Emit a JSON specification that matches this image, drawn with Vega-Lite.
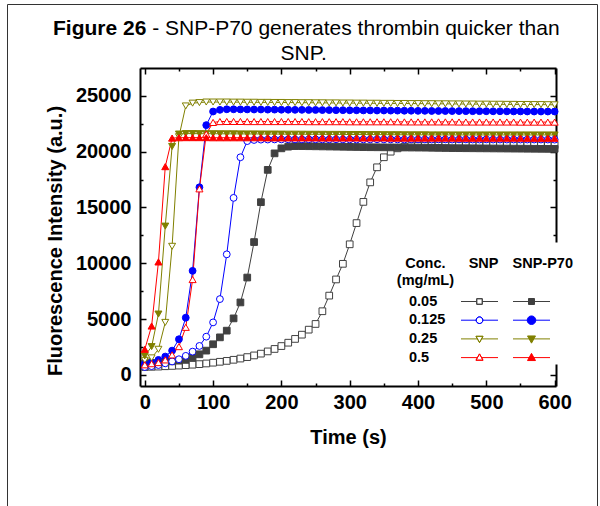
{
  "$schema": "https://vega.github.io/schema/vega-lite/v6.json",
  "width": 416,
  "height": 318,
  "autosize": {"type": "none"},
  "padding": {"left": 140, "top": 68, "right": 44, "bottom": 120},
  "background": "white",
  "config": {"view": {"stroke": null}, "font": "Liberation Sans"},
  "title": {
    "text": "Figure 26",
    "subtitle": ["\u200b\u00a0\u00a0\u00a0\u00a0\u00a0\u00a0\u00a0\u00a0\u00a0\u00a0\u00a0\u00a0\u00a0\u00a0\u00a0\u00a0 - SNP-P70 generates thrombin quicker than", "\u200b\u00a0\u00a0\u00a0\u00a0\u00a0\u00a0\u00a0\u00a0\u00a0\u00a0\u00a0\u00a0\u00a0\u00a0\u00a0\u00a0\u00a0\u00a0\u00a0\u00a0\u00a0\u00a0\u00a0\u00a0\u00a0\u00a0\u00a0\u00a0\u00a0\u00a0\u00a0\u00a0\u00a0\u00a0\u00a0\u00a0\u00a0\u00a0\u00a0SNP."],
    "anchor": "start",
    "frame": "group",
    "dx": -87,
    "offset": -60,
    "font": "Liberation Sans",
    "fontSize": 21,
    "fontWeight": "bold",
    "color": "black",
    "subtitleFont": "Liberation Sans",
    "subtitleFontSize": 21,
    "subtitleFontWeight": "normal",
    "subtitleColor": "black",
    "subtitlePadding": -21,
    "subtitleLineHeight": 25
  },
  "data": {"values": [
    {"t":0,"c":"0.05","SNP":700,"P70":1000},{"t":0,"c":"0.125","SNP":700,"P70":1000},{"t":0,"c":"0.25","SNP":1300,"P70":1700},{"t":0,"c":"0.5","SNP":900,"P70":2290},
    {"t":10,"c":"0.05","SNP":720,"P70":1050},{"t":10,"c":"0.125","SNP":780,"P70":1100},{"t":10,"c":"0.25","SNP":1520,"P70":2530},{"t":10,"c":"0.5","SNP":1000,"P70":4375},
    {"t":20,"c":"0.05","SNP":740,"P70":1100},{"t":20,"c":"0.125","SNP":880,"P70":1340},{"t":20,"c":"0.25","SNP":2290,"P70":5450},{"t":20,"c":"0.5","SNP":1100,"P70":10120},
    {"t":30,"c":"0.05","SNP":770,"P70":1150},{"t":30,"c":"0.125","SNP":1030,"P70":1640},{"t":30,"c":"0.25","SNP":4700,"P70":13330},{"t":30,"c":"0.5","SNP":1340,"P70":18660},
    {"t":40,"c":"0.05","SNP":800,"P70":1210},{"t":40,"c":"0.125","SNP":1200,"P70":2170},{"t":40,"c":"0.25","SNP":11520,"P70":20470},{"t":40,"c":"0.5","SNP":1790,"P70":21220},
    {"t":50,"c":"0.05","SNP":830,"P70":1270},{"t":50,"c":"0.125","SNP":1400,"P70":3190},{"t":50,"c":"0.25","SNP":21340,"P70":21580},{"t":50,"c":"0.5","SNP":2530,"P70":21250},
    {"t":60,"c":"0.05","SNP":870,"P70":1340},{"t":60,"c":"0.125","SNP":1700,"P70":5120},{"t":60,"c":"0.25","SNP":24100,"P70":21620},{"t":60,"c":"0.5","SNP":4260,"P70":21260},
    {"t":70,"c":"0.05","SNP":910,"P70":1550},{"t":70,"c":"0.125","SNP":2080,"P70":9320},{"t":70,"c":"0.25","SNP":24350,"P70":21620},{"t":70,"c":"0.5","SNP":8540,"P70":21260},
    {"t":80,"c":"0.05","SNP":960,"P70":1840},{"t":80,"c":"0.125","SNP":2590,"P70":16810},{"t":80,"c":"0.25","SNP":24400,"P70":21615},{"t":80,"c":"0.5","SNP":16670,"P70":21260},
    {"t":90,"c":"0.05","SNP":1020,"P70":2170},{"t":90,"c":"0.125","SNP":3420,"P70":22380},{"t":90,"c":"0.25","SNP":24450,"P70":21610},{"t":90,"c":"0.5","SNP":21580,"P70":21260},
    {"t":100,"c":"0.05","SNP":1090,"P70":2740},{"t":100,"c":"0.125","SNP":4700,"P70":23600},{"t":100,"c":"0.25","SNP":24450,"P70":21610},{"t":100,"c":"0.5","SNP":22620,"P70":21250},
    {"t":110,"c":"0.05","SNP":1170,"P70":3360},{"t":110,"c":"0.125","SNP":6790,"P70":23750},{"t":110,"c":"0.25","SNP":24450,"P70":21605},{"t":110,"c":"0.5","SNP":22700,"P70":21250},
    {"t":120,"c":"0.05","SNP":1250,"P70":3960},{"t":120,"c":"0.125","SNP":10800,"P70":23800},{"t":120,"c":"0.25","SNP":24450,"P70":21600},{"t":120,"c":"0.5","SNP":22710,"P70":21250},
    {"t":130,"c":"0.05","SNP":1350,"P70":5060},{"t":130,"c":"0.125","SNP":15860,"P70":23800},{"t":130,"c":"0.25","SNP":24440,"P70":21600},{"t":130,"c":"0.5","SNP":22710,"P70":21250},
    {"t":140,"c":"0.05","SNP":1460,"P70":6490},{"t":140,"c":"0.125","SNP":19500,"P70":23790},{"t":140,"c":"0.25","SNP":24440,"P70":21595},{"t":140,"c":"0.5","SNP":22710,"P70":21250},
    {"t":150,"c":"0.05","SNP":1590,"P70":8720},{"t":150,"c":"0.125","SNP":20950,"P70":23790},{"t":150,"c":"0.25","SNP":24430,"P70":21590},{"t":150,"c":"0.5","SNP":22700,"P70":21250},
    {"t":160,"c":"0.05","SNP":1740,"P70":11900},{"t":160,"c":"0.125","SNP":21050,"P70":23780},{"t":160,"c":"0.25","SNP":24430,"P70":21590},{"t":160,"c":"0.5","SNP":22700,"P70":21250},
    {"t":170,"c":"0.05","SNP":1900,"P70":15475},{"t":170,"c":"0.125","SNP":21080,"P70":23780},{"t":170,"c":"0.25","SNP":24420,"P70":21585},{"t":170,"c":"0.5","SNP":22700,"P70":21250},
    {"t":180,"c":"0.05","SNP":2100,"P70":18370},{"t":180,"c":"0.125","SNP":21090,"P70":23770},{"t":180,"c":"0.25","SNP":24420,"P70":21580},{"t":180,"c":"0.5","SNP":22700,"P70":21240},
    {"t":190,"c":"0.05","SNP":2320,"P70":19850},{"t":190,"c":"0.125","SNP":21100,"P70":23770},{"t":190,"c":"0.25","SNP":24410,"P70":21580},{"t":190,"c":"0.5","SNP":22700,"P70":21240},
    {"t":200,"c":"0.05","SNP":2580,"P70":20300},{"t":200,"c":"0.125","SNP":21100,"P70":23760},{"t":200,"c":"0.25","SNP":24410,"P70":21575},{"t":200,"c":"0.5","SNP":22700,"P70":21240},
    {"t":210,"c":"0.05","SNP":2880,"P70":20450},{"t":210,"c":"0.125","SNP":21110,"P70":23760},{"t":210,"c":"0.25","SNP":24400,"P70":21570},{"t":210,"c":"0.5","SNP":22700,"P70":21240},
    {"t":220,"c":"0.05","SNP":3220,"P70":20500},{"t":220,"c":"0.125","SNP":21100,"P70":23750},{"t":220,"c":"0.25","SNP":24400,"P70":21570},{"t":220,"c":"0.5","SNP":22700,"P70":21240},
    {"t":230,"c":"0.05","SNP":3600,"P70":20500},{"t":230,"c":"0.125","SNP":21100,"P70":23750},{"t":230,"c":"0.25","SNP":24390,"P70":21565},{"t":230,"c":"0.5","SNP":22700,"P70":21240},
    {"t":240,"c":"0.05","SNP":4050,"P70":20490},{"t":240,"c":"0.125","SNP":21110,"P70":23740},{"t":240,"c":"0.25","SNP":24390,"P70":21560},{"t":240,"c":"0.5","SNP":22690,"P70":21240},
    {"t":250,"c":"0.05","SNP":4560,"P70":20480},{"t":250,"c":"0.125","SNP":21110,"P70":23740},{"t":250,"c":"0.25","SNP":24380,"P70":21560},{"t":250,"c":"0.5","SNP":22690,"P70":21240},
    {"t":260,"c":"0.05","SNP":5700,"P70":20470},{"t":260,"c":"0.125","SNP":21100,"P70":23730},{"t":260,"c":"0.25","SNP":24380,"P70":21555},{"t":260,"c":"0.5","SNP":22690,"P70":21230},
    {"t":270,"c":"0.05","SNP":7100,"P70":20460},{"t":270,"c":"0.125","SNP":21100,"P70":23730},{"t":270,"c":"0.25","SNP":24370,"P70":21550},{"t":270,"c":"0.5","SNP":22690,"P70":21230},
    {"t":280,"c":"0.05","SNP":8550,"P70":20450},{"t":280,"c":"0.125","SNP":21110,"P70":23720},{"t":280,"c":"0.25","SNP":24370,"P70":21550},{"t":280,"c":"0.5","SNP":22690,"P70":21230},
    {"t":290,"c":"0.05","SNP":9950,"P70":20440},{"t":290,"c":"0.125","SNP":21100,"P70":23720},{"t":290,"c":"0.25","SNP":24360,"P70":21545},{"t":290,"c":"0.5","SNP":22690,"P70":21230},
    {"t":300,"c":"0.05","SNP":11700,"P70":20430},{"t":300,"c":"0.125","SNP":21100,"P70":23710},{"t":300,"c":"0.25","SNP":24360,"P70":21540},{"t":300,"c":"0.5","SNP":22680,"P70":21230},
    {"t":310,"c":"0.05","SNP":13600,"P70":20420},{"t":310,"c":"0.125","SNP":21090,"P70":23710},{"t":310,"c":"0.25","SNP":24350,"P70":21540},{"t":310,"c":"0.5","SNP":22680,"P70":21230},
    {"t":320,"c":"0.05","SNP":15500,"P70":20410},{"t":320,"c":"0.125","SNP":21100,"P70":23700},{"t":320,"c":"0.25","SNP":24350,"P70":21535},{"t":320,"c":"0.5","SNP":22680,"P70":21230},
    {"t":330,"c":"0.05","SNP":17250,"P70":20400},{"t":330,"c":"0.125","SNP":21100,"P70":23700},{"t":330,"c":"0.25","SNP":24340,"P70":21530},{"t":330,"c":"0.5","SNP":22680,"P70":21230},
    {"t":340,"c":"0.05","SNP":18600,"P70":20395},{"t":340,"c":"0.125","SNP":21110,"P70":23690},{"t":340,"c":"0.25","SNP":24340,"P70":21530},{"t":340,"c":"0.5","SNP":22680,"P70":21230},
    {"t":350,"c":"0.05","SNP":19500,"P70":20390},{"t":350,"c":"0.125","SNP":21100,"P70":23690},{"t":350,"c":"0.25","SNP":24330,"P70":21525},{"t":350,"c":"0.5","SNP":22680,"P70":21230},
    {"t":360,"c":"0.05","SNP":20000,"P70":20385},{"t":360,"c":"0.125","SNP":21100,"P70":23680},{"t":360,"c":"0.25","SNP":24330,"P70":21520},{"t":360,"c":"0.5","SNP":22680,"P70":21220},
    {"t":370,"c":"0.05","SNP":20300,"P70":20380},{"t":370,"c":"0.125","SNP":21100,"P70":23680},{"t":370,"c":"0.25","SNP":24320,"P70":21520},{"t":370,"c":"0.5","SNP":22680,"P70":21220},
    {"t":380,"c":"0.05","SNP":20450,"P70":20375},{"t":380,"c":"0.125","SNP":21090,"P70":23670},{"t":380,"c":"0.25","SNP":24320,"P70":21515},{"t":380,"c":"0.5","SNP":22670,"P70":21220},
    {"t":390,"c":"0.05","SNP":20500,"P70":20370},{"t":390,"c":"0.125","SNP":21100,"P70":23670},{"t":390,"c":"0.25","SNP":24310,"P70":21510},{"t":390,"c":"0.5","SNP":22670,"P70":21220},
    {"t":400,"c":"0.05","SNP":20520,"P70":20365},{"t":400,"c":"0.125","SNP":21100,"P70":23660},{"t":400,"c":"0.25","SNP":24310,"P70":21510},{"t":400,"c":"0.5","SNP":22670,"P70":21220},
    {"t":410,"c":"0.05","SNP":20530,"P70":20360},{"t":410,"c":"0.125","SNP":21100,"P70":23660},{"t":410,"c":"0.25","SNP":24300,"P70":21510},{"t":410,"c":"0.5","SNP":22670,"P70":21220},
    {"t":420,"c":"0.05","SNP":20540,"P70":20350},{"t":420,"c":"0.125","SNP":21090,"P70":23650},{"t":420,"c":"0.25","SNP":24300,"P70":21505},{"t":420,"c":"0.5","SNP":22670,"P70":21220},
    {"t":430,"c":"0.05","SNP":20550,"P70":20340},{"t":430,"c":"0.125","SNP":21100,"P70":23650},{"t":430,"c":"0.25","SNP":24290,"P70":21505},{"t":430,"c":"0.5","SNP":22670,"P70":21220},
    {"t":440,"c":"0.05","SNP":20550,"P70":20330},{"t":440,"c":"0.125","SNP":21100,"P70":23645},{"t":440,"c":"0.25","SNP":24290,"P70":21505},{"t":440,"c":"0.5","SNP":22670,"P70":21220},
    {"t":450,"c":"0.05","SNP":20560,"P70":20320},{"t":450,"c":"0.125","SNP":21090,"P70":23640},{"t":450,"c":"0.25","SNP":24280,"P70":21500},{"t":450,"c":"0.5","SNP":22670,"P70":21220},
    {"t":460,"c":"0.05","SNP":20560,"P70":20315},{"t":460,"c":"0.125","SNP":21100,"P70":23640},{"t":460,"c":"0.25","SNP":24280,"P70":21500},{"t":460,"c":"0.5","SNP":22660,"P70":21210},
    {"t":470,"c":"0.05","SNP":20560,"P70":20310},{"t":470,"c":"0.125","SNP":21100,"P70":23635},{"t":470,"c":"0.25","SNP":24270,"P70":21500},{"t":470,"c":"0.5","SNP":22660,"P70":21210},
    {"t":480,"c":"0.05","SNP":20570,"P70":20305},{"t":480,"c":"0.125","SNP":21090,"P70":23630},{"t":480,"c":"0.25","SNP":24270,"P70":21500},{"t":480,"c":"0.5","SNP":22660,"P70":21210},
    {"t":490,"c":"0.05","SNP":20570,"P70":20300},{"t":490,"c":"0.125","SNP":21090,"P70":23630},{"t":490,"c":"0.25","SNP":24260,"P70":21500},{"t":490,"c":"0.5","SNP":22660,"P70":21210},
    {"t":500,"c":"0.05","SNP":20570,"P70":20295},{"t":500,"c":"0.125","SNP":21100,"P70":23625},{"t":500,"c":"0.25","SNP":24260,"P70":21500},{"t":500,"c":"0.5","SNP":22660,"P70":21210},
    {"t":510,"c":"0.05","SNP":20580,"P70":20290},{"t":510,"c":"0.125","SNP":21090,"P70":23620},{"t":510,"c":"0.25","SNP":24250,"P70":21500},{"t":510,"c":"0.5","SNP":22660,"P70":21210},
    {"t":520,"c":"0.05","SNP":20580,"P70":20285},{"t":520,"c":"0.125","SNP":21090,"P70":23620},{"t":520,"c":"0.25","SNP":24250,"P70":21500},{"t":520,"c":"0.5","SNP":22660,"P70":21210},
    {"t":530,"c":"0.05","SNP":20580,"P70":20280},{"t":530,"c":"0.125","SNP":21090,"P70":23615},{"t":530,"c":"0.25","SNP":24240,"P70":21500},{"t":530,"c":"0.5","SNP":22660,"P70":21210},
    {"t":540,"c":"0.05","SNP":20580,"P70":20275},{"t":540,"c":"0.125","SNP":21090,"P70":23610},{"t":540,"c":"0.25","SNP":24240,"P70":21500},{"t":540,"c":"0.5","SNP":22660,"P70":21210},
    {"t":550,"c":"0.05","SNP":20580,"P70":20270},{"t":550,"c":"0.125","SNP":21090,"P70":23610},{"t":550,"c":"0.25","SNP":24230,"P70":21500},{"t":550,"c":"0.5","SNP":22650,"P70":21210},
    {"t":560,"c":"0.05","SNP":20580,"P70":20265},{"t":560,"c":"0.125","SNP":21090,"P70":23605},{"t":560,"c":"0.25","SNP":24230,"P70":21500},{"t":560,"c":"0.5","SNP":22650,"P70":21200},
    {"t":570,"c":"0.05","SNP":20580,"P70":20260},{"t":570,"c":"0.125","SNP":21090,"P70":23600},{"t":570,"c":"0.25","SNP":24220,"P70":21500},{"t":570,"c":"0.5","SNP":22650,"P70":21200},
    {"t":580,"c":"0.05","SNP":20580,"P70":20255},{"t":580,"c":"0.125","SNP":21090,"P70":23600},{"t":580,"c":"0.25","SNP":24220,"P70":21500},{"t":580,"c":"0.5","SNP":22650,"P70":21200},
    {"t":590,"c":"0.05","SNP":20580,"P70":20250},{"t":590,"c":"0.125","SNP":21090,"P70":23600},{"t":590,"c":"0.25","SNP":24210,"P70":21500},{"t":590,"c":"0.5","SNP":22650,"P70":21200},
    {"t":600,"c":"0.05","SNP":20580,"P70":20250},{"t":600,"c":"0.125","SNP":21080,"P70":23600},{"t":600,"c":"0.25","SNP":24200,"P70":21500},{"t":600,"c":"0.5","SNP":22650,"P70":21200}
  ]},
  "layer": [
    {
      "transform": [{"fold": ["SNP", "P70"], "as": ["s", "v"]}],
      "mark": {"type": "line", "strokeWidth": 1},
      "encoding": {
        "x": {"field": "t", "type": "quantitative",
          "scale": {"domain": [-7, 602], "nice": false, "zero": false},
          "axis": {"orient": "bottom", "values": [0,50,100,150,200,250,300,350,400,450,500,550,600],
            "labelExpr": "datum.value % 100 === 0 ? datum.label : ''",
            "grid": false, "domainColor": "black", "domainWidth": 2,
            "tickColor": "black", "tickWidth": 1.5,
            "tickSize": {"condition": {"test": "datum.value % 100 === 0", "value": -6}, "value": -3},
            "labelFont": "Liberation Sans", "labelFontSize": 20, "labelFontWeight": "bold", "labelColor": "black",
            "labelPadding": 12, "labelFlush": false, "labelOverlap": false,
            "title": "Time (s)", "titleFont": "Liberation Sans", "titleFontSize": 20, "titleFontWeight": "bold", "titleColor": "black",
            "titleBaseline": "alphabetic", "titleY": 57}},
        "y": {"field": "v", "type": "quantitative",
          "scale": {"domain": [-1000, 27500], "nice": false, "zero": false},
          "axis": {"orient": "left", "values": [0,2500,5000,7500,10000,12500,15000,17500,20000,22500,25000],
            "format": "d",
            "labelExpr": "datum.value % 5000 === 0 ? datum.label : ''",
            "grid": false, "domainColor": "black", "domainWidth": 2,
            "tickColor": "black", "tickWidth": 1.5,
            "tickSize": {"condition": {"test": "datum.value % 5000 === 0", "value": -6}, "value": -3},
            "labelFont": "Liberation Sans", "labelFontSize": 20, "labelFontWeight": "bold", "labelColor": "black",
            "labelPadding": 15, "labelFlush": false, "labelOverlap": false,
            "title": "Fluorescence Intensity (a.u.)", "titleFont": "Liberation Sans", "titleFontSize": 20, "titleFontWeight": "bold", "titleColor": "black",
            "titleAngle": -90, "titleAlign": "center", "titleBaseline": "alphabetic", "titleX": -79, "titleY": 172.5}},
        "color": {"field": "c", "type": "nominal",
          "scale": {"domain": ["0.05", "0.125", "0.25", "0.5"], "range": ["#404040", "#0000ff", "#808000", "#ff0000"]},
          "legend": null},
        "detail": {"field": "s"}
      }
    },
    {
      "transform": [{"fold": ["SNP", "P70"], "as": ["s", "v"]}],
      "mark": {"type": "point", "filled": true, "opacity": 1, "strokeWidth": 1},
      "encoding": {
        "x": {"field": "t", "type": "quantitative",
          "axis": {"orient": "top", "values": [0,50,100,150,200,250,300,350,400,450,500,550,600],
            "labels": false, "title": null, "grid": false, "domainColor": "black", "domainWidth": 2,
            "tickColor": "black", "tickWidth": 1.5,
            "tickSize": {"condition": {"test": "datum.value % 100 === 0", "value": -6}, "value": -3}}},
        "y": {"field": "v", "type": "quantitative",
          "axis": {"orient": "right", "values": [0,2500,5000,7500,10000,12500,15000,17500,20000,22500,25000],
            "labels": false, "title": null, "grid": false, "domainColor": "black", "domainWidth": 2,
            "tickColor": "black", "tickWidth": 1.5,
            "tickSize": {"condition": {"test": "datum.value % 5000 === 0", "value": -6}, "value": -3}}},
        "fill": {"field": "c", "type": "nominal",
          "condition": {"test": "datum.s === 'SNP'", "value": "white"},
          "scale": {"domain": ["0.05", "0.125", "0.25", "0.5"], "range": ["#404040", "#0000ff", "#808000", "#ff0000"]},
          "legend": null},
        "stroke": {"field": "c", "type": "nominal",
          "scale": {"domain": ["0.05", "0.125", "0.25", "0.5"], "range": ["#404040", "#0000ff", "#808000", "#ff0000"]},
          "legend": null},
        "shape": {"field": "c", "type": "nominal",
          "scale": {"domain": ["0.05", "0.125", "0.25", "0.5"], "range": ["square", "circle", "triangle-down", "triangle-up"]},
          "legend": null},
        "size": {"field": "c", "type": "ordinal",
          "scale": {"domain": ["0.05", "0.125", "0.25", "0.5"], "range": [45, 50, 60, 60]},
          "legend": null},
        "order": [{"field": "c"}, {"field": "s", "sort": "descending"}]
      }
    },
    {
      "data": {"values": [{"k": "box"}]},
      "mark": {"type": "point", "filled": true, "color": "white", "stroke": "black", "strokeWidth": 1, "opacity": 0},
      "encoding": {
        "shape": {"field": "k", "type": "nominal",
          "scale": {"domain": ["box"], "range": ["M-1,-0.613H1V0.613H-1Z"]},
          "legend": {
            "orient": "none", "legendX": 241, "legendY": 135.5, "padding": 0,
            "title": null, "labelExpr": "''", "labelOpacity": 0,
            "symbolSize": 39601, "symbolFillColor": "white", "symbolStrokeColor": "black",
            "symbolStrokeWidth": 1, "symbolOpacity": 1
          }}
      }
    },
    {
      "data": {"values": [{"h": "Conc."}]},
      "mark": {"type": "point", "opacity": 0},
      "encoding": {
        "shape": {"field": "h", "type": "nominal",
          "legend": {
            "orient": "none", "legendX": 256.4, "legendY": 189, "padding": 0,
            "title": ["Conc.", "(mg/mL)"],
            "titleFont": "Liberation Sans", "titleFontSize": 14.5, "titleFontWeight": "bold", "titleColor": "black",
            "titleLineHeight": 16.5, "titleAlign": "center", "titleAnchor": "start", "titleLimit": 1000, "titlePadding": 2,
            "labelExpr": "''", "labelOpacity": 0,
            "symbolSize": 1, "symbolOpacity": 0
          }}
      }
    },
    {
      "data": {"values": [{"c": "0.05"}, {"c": "0.125"}, {"c": "0.25"}, {"c": "0.5"}]},
      "mark": {"type": "point", "opacity": 0},
      "encoding": {
        "shape": {"field": "c", "type": "nominal",
          "scale": {"domain": ["0.05", "0.125", "0.25", "0.5"]},
          "legend": {
            "orient": "none", "legendX": 254.5, "legendY": 225, "padding": 0,
            "title": null,
            "labelFont": "Liberation Sans", "labelFontSize": 14.5, "labelFontWeight": "bold", "labelColor": "black",
            "labelBaseline": "middle", "labelOffset": 0, "labelLimit": 200,
            "symbolSize": 1, "symbolOpacity": 0,
            "clipHeight": 17, "rowPadding": 1.7
          }}
      }
    },
    {
      "data": {"values": [{"c": "0.05"}, {"c": "0.125"}, {"c": "0.25"}, {"c": "0.5"}]},
      "mark": {"type": "point", "filled": false, "opacity": 0},
      "encoding": {
        "shape": {"field": "c", "type": "nominal",
          "scale": {"domain": ["0.05", "0.125", "0.25", "0.5"], "range": [
            "M-1,0H-0.15M0.15,0H1M-0.15,-0.15H0.15V0.15H-0.15ZM-0.15,-0.15V0.15H0.15V-0.15Z",
            "M-1,0H-0.18M0.18,0H1M-0.18,0A0.18,0.18,0,1,0,0.18,0A0.18,0.18,0,1,0,-0.18,0ZM-0.18,0A0.18,0.18,0,1,1,0.18,0A0.18,0.18,0,1,1,-0.18,0Z",
            "M-1,0H-0.112M0.112,0H1M-0.19,-0.14H0.19L0,0.2ZM-0.19,-0.14L0,0.2L0.19,-0.14Z",
            "M-1,0H-0.112M0.112,0H1M-0.19,0.14H0.19L0,-0.2ZM-0.19,0.14L0,-0.2L0.19,0.14Z"
          ]},
          "legend": {
            "orient": "none", "legendX": 320.5, "legendY": 189, "padding": 0,
            "title": "SNP", "titleAnchor": "end",
            "titleFont": "Liberation Sans", "titleFontSize": 14.5, "titleFontWeight": "bold", "titleColor": "black",
            "titlePadding": 21.5, "titleLimit": 1000,
            "labelExpr": "''", "labelOpacity": 0, "labelOffset": 0,
            "symbolSize": 1369, "symbolStrokeWidth": 1, "symbolOpacity": 1,
            "clipHeight": 17, "rowPadding": 1.7
          }},
        "stroke": {"field": "c", "type": "nominal",
          "scale": {"domain": ["0.05", "0.125", "0.25", "0.5"], "range": ["#404040", "#0000ff", "#808000", "#ff0000"]}}
      }
    },
    {
      "data": {"values": [{"c": "0.05"}, {"c": "0.125"}, {"c": "0.25"}, {"c": "0.5"}]},
      "mark": {"type": "point", "filled": true, "opacity": 0},
      "encoding": {
        "shape": {"field": "c", "type": "nominal",
          "scale": {"domain": ["0.05", "0.125", "0.25", "0.5"], "range": [
            "M-1,0H1M-0.162,-0.162H0.162V0.162H-0.162Z",
            "M-1,0H1M-0.232,0A0.232,0.232,0,1,0,0.232,0A0.232,0.232,0,1,0,-0.232,0Z",
            "M-1,0H1M-0.216,-0.16H0.216L0,0.23Z",
            "M-1,0H1M-0.216,0.16H0.216L0,-0.23Z"
          ]},
          "legend": {
            "orient": "none", "legendX": 372.5, "legendY": 189, "padding": 0,
            "title": "SNP-P70", "titleAnchor": "start",
            "titleFont": "Liberation Sans", "titleFontSize": 14.5, "titleFontWeight": "bold", "titleColor": "black",
            "titlePadding": 21.5, "titleLimit": 1000,
            "labelExpr": "''", "labelOpacity": 0, "labelOffset": 0,
            "symbolSize": 1369, "symbolStrokeWidth": 1, "symbolOpacity": 1,
            "clipHeight": 17, "rowPadding": 1.7
          }},
        "fill": {"field": "c", "type": "nominal",
          "scale": {"domain": ["0.05", "0.125", "0.25", "0.5"], "range": ["#404040", "#0000ff", "#808000", "#ff0000"]}},
        "stroke": {"field": "c", "type": "nominal",
          "scale": {"domain": ["0.05", "0.125", "0.25", "0.5"], "range": ["#404040", "#0000ff", "#808000", "#ff0000"]}}
      }
    },
    {
      "data": {"values": [{"k": "frame"}]},
      "mark": {"type": "point", "filled": false, "opacity": 0},
      "encoding": {
        "shape": {"field": "k", "type": "nominal",
          "scale": {"domain": ["frame"], "range": ["M-1,1V-1H1V1"]},
          "legend": {
            "orient": "none", "legendX": -133, "legendY": -64, "padding": 0,
            "title": null, "labelExpr": "''", "labelOpacity": 0,
            "symbolSize": 348100, "symbolStrokeColor": "#333333", "symbolFillColor": "transparent",
            "symbolStrokeWidth": 1, "symbolOpacity": 1
          }}
      }
    }
  ],
  "resolve": {
    "scale": {"color": "independent", "fill": "independent", "stroke": "independent", "shape": "independent", "size": "independent"},
    "axis": {"x": "independent", "y": "independent"}
  }
}
